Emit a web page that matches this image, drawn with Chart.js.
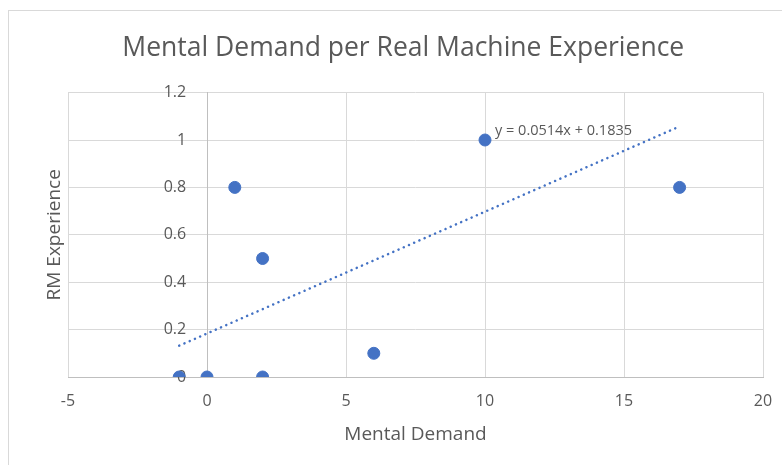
<!DOCTYPE html>
<html>
<head>
<meta charset="utf-8">
<script src="https://cdn.jsdelivr.net/npm/chart.js@4.4.1/dist/chart.umd.min.js"></script>
<style>
  html, body { margin: 0; padding: 0; background: #fff; overflow: hidden; width: 782px; height: 465px; }
  #frame { position: absolute; left: 8px; top: 10px; width: 792px; height: 470px; border: 1px solid #d9d9d9; box-sizing: border-box; }
  #wrap { position: absolute; left: 8px; top: 10px; width: 792px; height: 460px; }
</style>
</head>
<body>
<div id="frame"></div>
<div id="wrap"><canvas id="chartMental"></canvas></div>
<script>
// datos
const mentalDemand = [-1, 0, 1, 2, 2, 6, 10, 17];
const rmExperience = [0, 0, 0.8, 0.5, 0, 0.1, 1, 0.8];
const slope = 0.0514;
const intercept = 0.1835;
const trendX = [-1, 17];
const trendLabel = 'y = 0.0514x + 0.1835';

const gris = '#595959';
const azul = '#4472C4';

const puntos = mentalDemand.map((x, i) => ({ x: x, y: rmExperience[i] }));
const tendencia = trendX.map(x => ({ x: x, y: slope * x + intercept }));

const etiquetaTendencia = {
  id: 'etiquetaTendencia',
  afterDatasetsDraw(chart) {
    const { ctx, scales } = chart;
    ctx.save();
    ctx.font = '14.5px "Open Sans"';
    ctx.fillStyle = gris;
    ctx.textBaseline = 'middle';
    ctx.fillText(trendLabel, scales.x.getPixelForValue(10.36), scales.y.getPixelForValue(1.04));
    ctx.restore();
  }
};

const ctx = document.getElementById('chartMental').getContext('2d');
new Chart(ctx, {
  type: 'scatter',
  data: {
    datasets: [{
      label: 'RM Experience',
      data: puntos,
      backgroundColor: azul,
      borderColor: azul,
      pointRadius: 6,
      pointHoverRadius: 6
    }, {
      type: 'line',
      label: 'Linear',
      data: tendencia,
      borderColor: azul,
      borderWidth: 2.5,
      borderDash: [0.1, 5.6],
      borderCapStyle: 'round',
      pointRadius: 0,
      fill: false
    }]
  },
  plugins: [etiquetaTendencia],
  options: {
    responsive: true,
    maintainAspectRatio: false,
    animation: false,
    layout: { padding: { left: 35.6, right: 37, top: 0, bottom: 27 } },
    scales: {
      x: {
        type: 'linear',
        position: 'bottom',
        min: -5,
        max: 20,
        ticks: { stepSize: 5, color: gris, font: { family: 'Open Sans', size: 16 }, padding: 15 },
        grid: { color: '#d9d9d9', drawTicks: false },
        border: { color: '#bfbfbf' },
        title: { display: true, text: 'Mental Demand', color: gris, font: { family: 'Open Sans', size: 19, lineHeight: 0.884 }, padding: { top: 0, bottom: 0 } }
      },
      y: {
        type: 'linear',
        position: { x: 0 },
        min: 0,
        max: 1.2,
        ticks: { stepSize: 0.2, color: gris, font: { family: 'Open Sans', size: 16 },
          callback: v => (Math.round(v * 10) / 10) + '     ' },
        grid: { color: '#d9d9d9', drawTicks: false },
        border: { color: '#bfbfbf' }
      },
      yt: {
        type: 'linear',
        position: 'left',
        display: true,
        ticks: { display: false },
        grid: { display: false, drawTicks: false },
        border: { display: false },
        title: { display: true, text: 'RM Experience', color: gris, font: { family: 'Open Sans', size: 19 }, padding: { top: 0, bottom: 1.6 } }
      }
    },
    plugins: {
      legend: { display: false },
      tooltip: { enabled: false },
      title: {
        display: true,
        text: 'Mental Demand per Real Machine Experience',
        color: gris,
        font: { family: 'Open Sans', size: 26.5, weight: 'normal' },
        padding: { top: 22.4, bottom: 28.4 }
      }
    }
  }
});
</script>
</body>
</html>
